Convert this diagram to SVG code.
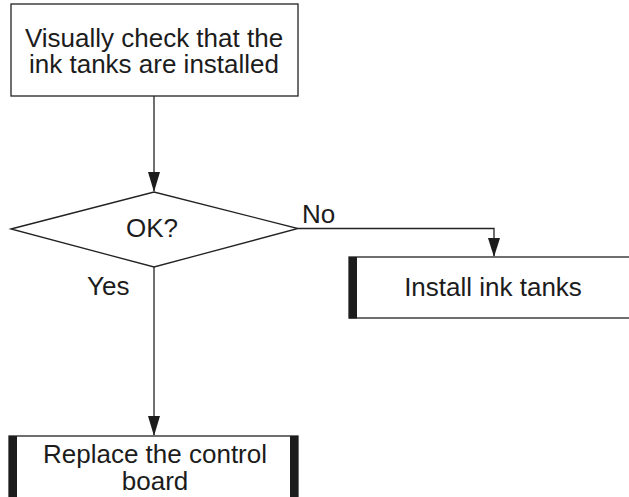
<svg xmlns="http://www.w3.org/2000/svg" width="629" height="497" viewBox="0 0 629 497">
<style>
.shape{fill:#fff;stroke:#222;stroke-width:1.3}
.bar{fill:#1c1c1c}
.conn{fill:none;stroke:#222;stroke-width:1.3}
text{font-family:"Liberation Sans",Arial,sans-serif;font-size:26px;fill:#1c1c1c}
.c{text-anchor:middle}
</style>
<defs>
<marker id="arr" markerUnits="userSpaceOnUse" markerWidth="12" markerHeight="20" refX="6" refY="19" orient="auto-start-reverse" viewBox="0 0 12 20">
<path d="M0,0 L12,0 L6,19 Z" fill="#1c1c1c"/>
</marker>
</defs>
<rect width="629" height="497" fill="#fff"/>
<g id="connectors">
<path class="conn" d="M154,96 V191"/>
<path class="conn" d="M298,228.5 H494 V256"/>
<path class="conn" d="M154,267 V435"/>
<path d="M148,172 L160,172 L154,192 Z" fill="#1c1c1c"/>
<path d="M488,238 L500,238 L494,257 Z" fill="#1c1c1c"/>
<path d="M148,416 L160,416 L154,436 Z" fill="#1c1c1c"/>
</g>
<g id="check">
<rect class="shape" x="11" y="4" width="287" height="92"/>
<text class="c" x="154" y="47">Visually check that the</text>
<text class="c" x="154" y="73">ink tanks are installed</text>
</g>
<g id="decision">
<polygon class="shape" points="11,229 154,192 298,228.5 154,267"/>
<text class="c" x="152" y="237">OK?</text>
</g>
<g id="labels">
<text x="302" y="223">No</text>
<text x="87" y="295">Yes</text>
</g>
<g id="install">
<rect class="shape" x="349" y="257" width="300" height="61"/>
<rect class="bar" x="349" y="257" width="8" height="61.5"/>
<text class="c" x="493" y="296">Install ink tanks</text>
</g>
<g id="replace">
<rect class="shape" x="9" y="436" width="289" height="80"/>
<rect class="bar" x="9" y="436" width="8" height="61"/>
<rect class="bar" x="290" y="436" width="8" height="61"/>
<text class="c" x="155" y="463">Replace the control</text>
<text class="c" x="155" y="490">board</text>
</g>
</svg>
